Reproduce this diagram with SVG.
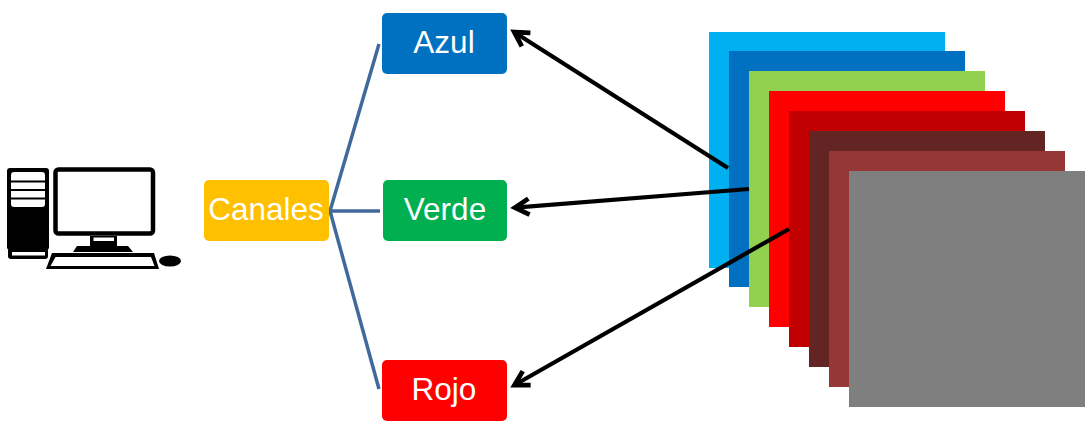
<svg xmlns="http://www.w3.org/2000/svg" width="1092" height="425" viewBox="0 0 1092 425">
<style>
.lbl{font-family:"Liberation Sans",Arial,sans-serif;font-size:31.500px;fill:#fff;text-anchor:middle}
.link{stroke:#41699b;stroke-width:3.500;fill:none}
.arrow{stroke:#000;stroke-width:4.200;fill:none;marker-end:url(#open)}
.k{fill:#000}.w{fill:#fff}
</style>
<defs>
<marker id="open" markerUnits="userSpaceOnUse" markerWidth="30" markerHeight="30" refX="20" refY="15" orient="auto">
<path d="M6 7L20 15L6 23" fill="none" stroke="#000" stroke-width="4.800" stroke-miterlimit="10"/>
</marker>
</defs>
<rect width="1092" height="425" fill="#fff"/>
<g id="stack">
<rect x="709" y="32" width="236" height="236" fill="#00b0f0"/>
<rect x="729" y="51" width="236" height="236" fill="#0070c0"/>
<rect x="749" y="71" width="236" height="236" fill="#92d050"/>
<rect x="769" y="91" width="236" height="236" fill="#ff0000"/>
<rect x="789" y="111" width="236" height="236" fill="#c00000"/>
<rect x="809" y="131" width="236" height="236" fill="#632523"/>
<rect x="829" y="151" width="236" height="236" fill="#953735"/>
<rect x="849" y="171" width="236" height="236" fill="#7f7f7f"/>
</g>
<g id="computer">
<rect class="k" x="7" y="168" width="42" height="82" rx="3"/>
<rect class="k" x="8" y="248" width="40" height="11" rx="3"/>
<rect class="w" x="12" y="252" width="33" height="3.500"/>
<rect class="w" x="11" y="172" width="34" height="35" rx="3"/>
<rect class="k" x="11" y="180.500" width="34" height="2"/>
<rect class="k" x="11" y="189" width="34" height="2"/>
<rect class="k" x="11" y="197.500" width="34" height="2"/>
<rect x="55.500" y="169.500" width="97.500" height="64" rx="3" fill="#fff" stroke="#000" stroke-width="4.500"/>
<rect class="k" x="90" y="236" width="27" height="10"/>
<rect class="w" x="93.500" y="237.500" width="20.500" height="3.500"/>
<path class="k" d="M77 246H128L133 252H73Z"/>
<path class="k" d="M52 253H154L159 269H46Z"/>
<path class="w" d="M55.500 257H151L154.500 266H50.500Z"/>
<ellipse class="k" cx="170" cy="261" rx="11" ry="5.500"/>
</g>
<g id="connectors">
<path class="link" d="M379 44L330 211L379 389M330 211H380"/>
<path class="arrow" d="M728 168L514.300 32.200"/>
<path class="arrow" d="M749 189L515 207.700"/>
<path class="arrow" d="M789 229L514.500 385"/>
</g>
<g id="canales"><rect x="204" y="180" width="125" height="61" rx="5" fill="#ffc000"/><text class="lbl" x="266" y="219.500">Canales</text></g>
<g id="azul"><rect x="382" y="13" width="125" height="61" rx="5" fill="#0070c0"/><text class="lbl" x="444" y="52.500">Azul</text></g>
<g id="verde"><rect x="383" y="180" width="124" height="61" rx="5" fill="#00b050"/><text class="lbl" x="445" y="219.500">Verde</text></g>
<g id="rojo"><rect x="382" y="360" width="125" height="61" rx="5" fill="#ff0000"/><text class="lbl" x="444" y="400">Rojo</text></g>
</svg>
